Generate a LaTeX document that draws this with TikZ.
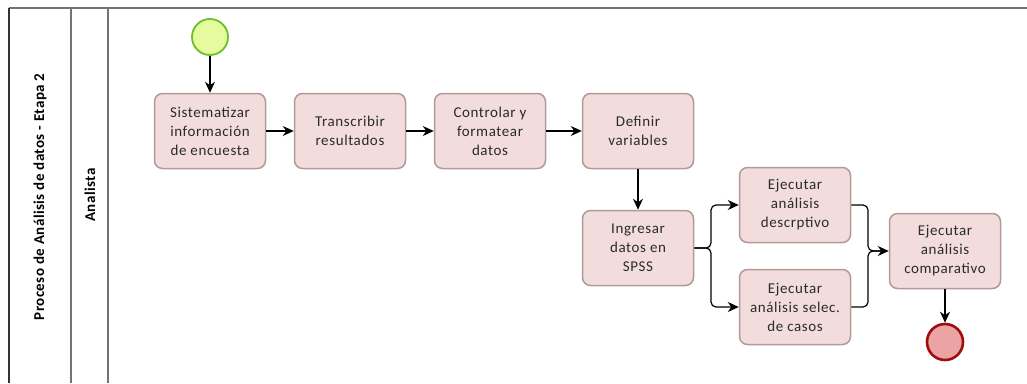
\documentclass[tikz,border=0pt]{standalone}
\usepackage{fontspec}
\setmainfont{Carlito}
\newfontfamily\taskfont[LetterSpace=4]{Carlito}
\newfontfamily\poolfont[LetterSpace=3]{Carlito}
\usetikzlibrary{arrows.meta}
\definecolor{taskfill}{HTML}{F2DCDC}
\definecolor{taskdraw}{HTML}{B39A9A}
\definecolor{startfill}{HTML}{E6FA9E}
\definecolor{startdraw}{HTML}{6DBE2B}
\definecolor{endfill}{HTML}{EBA3A3}
\definecolor{enddraw}{HTML}{A00D0D}
\definecolor{txt}{HTML}{2B2B2B}
\begin{document}
\begin{tikzpicture}[x=1pt,y=-1pt,
  task/.style={draw=taskdraw, fill=taskfill, line width=1.5pt, rounded corners=8pt,
    minimum width=111pt, minimum height=75pt, align=center, text=txt,
    font=\taskfont\fontsize{15}{19}\selectfont, inner sep=2pt},
  flow/.style={line width=1.2pt, black, -{Stealth[length=11pt,width=10pt]}},
  plain/.style={line width=1.2pt, black},
  lane/.style={line width=1.3pt, draw=black!55}
]
\useasboundingbox (0,0) rectangle (1027,383);
% pool & lane
\draw[lane] (9,8) -- (1027,8);
\draw[line width=1.3pt, draw=black!80] (9,8) -- (9,383);
\draw[lane] (71,8) -- (71,383);
\draw[lane] (108,8) -- (108,383);
\node[rotate=90, font=\poolfont\bfseries\fontsize{15}{17}\selectfont] (pool) at (40,197) {Proceso de Análisis de datos - Etapa 2};
\node[rotate=90, font=\poolfont\bfseries\fontsize{15}{17}\selectfont] (lanelbl) at (90,195) {Analista};
% events
\node[circle, draw=startdraw, fill=startfill, line width=1.8pt, minimum size=36pt, inner sep=0pt] (start) at (210,37) {};
\node[circle, draw=enddraw, fill=endfill, line width=2.6pt, minimum size=36pt, inner sep=0pt] (end) at (945,342) {};
% tasks
\node[task] (t1) at (210,131) {Sistematizar\\información\\de encuesta};
\node[task] (t2) at (350,131) {Transcribir\\resultados};
\node[task] (t3) at (490,131) {Controlar y\\formatear\\datos};
\node[task] (t4) at (638,131) {Definir\\variables};
\node[task] (t5) at (638,248) {Ingresar\\datos en\\SPSS};
\node[task] (t6) at (795,205) {Ejecutar\\análisis\\descrptivo};
\node[task] (t7) at (795,307) {Ejecutar\\análisis selec.\\de casos};
\node[task] (t8) at (945,251) {Ejecutar\\análisis\\comparativo};
\coordinate (split) at (711,248);
\coordinate (join) at (868,251);
% flows
\draw[flow] (start) -- (t1);
\draw[flow] (t1) -- (t2);
\draw[flow] (t2) -- (t3);
\draw[flow] (t3) -- (t4);
\draw[flow] (t4) -- (t5);
\draw[flow, rounded corners=5pt] (t5.east) -- (split) |- (t6.west);
\draw[flow, rounded corners=5pt] (t5.east) -- (split) |- (t7.west);
\draw[flow, rounded corners=5pt] (t6.east) -| (join) -- (t8.west);
\draw[plain, rounded corners=5pt] (t7.east) -| (join) -- ([xshift=-8pt]t8.west);
\draw[flow] (t8) -- (end);
\end{tikzpicture}
\end{document}
